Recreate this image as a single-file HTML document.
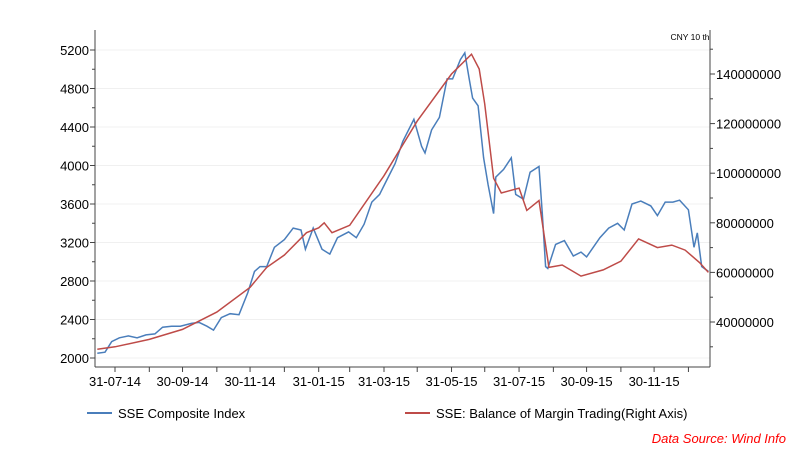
<!DOCTYPE html>
<html><head><meta charset="utf-8"><style>
body{margin:0;background:#fff;width:800px;height:449px;overflow:hidden;font-family:"Liberation Sans",sans-serif}
svg text{font-family:"Liberation Sans",sans-serif}
</style></head><body>
<svg id="chart" width="800" height="449" viewBox="0 0 800 449" xmlns="http://www.w3.org/2000/svg">
<g id="grid"></g>
<g id="axes"></g>
<g id="series"></g>
<text x="690" y="40" font-size="8.5" text-anchor="middle">CNY 10 th</text>
<g>
<g><line x1="87" y1="413" x2="112" y2="413" stroke="#4a7ebb" stroke-width="2"/><text x="118" y="418" font-size="13">SSE Composite Index</text></g>
<g><line x1="405" y1="413" x2="430" y2="413" stroke="#be4b48" stroke-width="2"/><text x="436" y="418" font-size="13">SSE: Balance of Margin Trading(Right Axis)</text></g>
</g>
<text x="786" y="443" font-size="13" fill="#ff0000" font-style="italic" text-anchor="end">Data Source: Wind Info</text>
</svg>
<script>
const leftTicks=[2000,2400,2800,3200,3600,4000,4400,4800,5200];
const rightTicks=[40000000,60000000,80000000,100000000,120000000,140000000];
const xTickDates=["2014-07-31","2014-08-31","2014-09-30","2014-10-31","2014-11-30","2014-12-31","2015-01-31","2015-02-28","2015-03-31","2015-04-30","2015-05-31","2015-06-30","2015-07-31","2015-08-31","2015-09-30","2015-10-31","2015-11-30","2015-12-31"];
const xTickLabels=["31-07-14","","30-09-14","","30-11-14","","31-01-15","","31-03-15","","31-05-15","","31-07-15","","30-09-15","","30-11-15",""];
const indexDates=["2014-07-15","2014-07-22","2014-07-28","2014-08-04","2014-08-12","2014-08-20","2014-08-28","2014-09-05","2014-09-12","2014-09-20","2014-09-28","2014-10-08","2014-10-15","2014-10-22","2014-10-28","2014-11-04","2014-11-12","2014-11-20","2014-11-28","2014-12-04","2014-12-09","2014-12-15","2014-12-22","2014-12-31","2015-01-08","2015-01-15","2015-01-19","2015-01-26","2015-02-03","2015-02-10","2015-02-17","2015-02-27","2015-03-06","2015-03-13","2015-03-20","2015-03-27","2015-04-03","2015-04-10","2015-04-17","2015-04-27","2015-05-04","2015-05-07","2015-05-13","2015-05-20","2015-05-27","2015-06-01","2015-06-08","2015-06-12","2015-06-16","2015-06-19","2015-06-24","2015-06-29","2015-07-03","2015-07-08","2015-07-10","2015-07-17","2015-07-24","2015-07-28","2015-08-04","2015-08-10","2015-08-18","2015-08-21","2015-08-24","2015-08-26","2015-09-02","2015-09-10","2015-09-18","2015-09-25","2015-09-30","2015-10-12","2015-10-20","2015-10-28","2015-11-03","2015-11-10","2015-11-18","2015-11-27","2015-12-03","2015-12-10","2015-12-17","2015-12-23","2015-12-31","2016-01-05","2016-01-08","2016-01-12","2016-01-18"];
const indexValues=[2050,2060,2170,2210,2230,2210,2240,2250,2320,2330,2330,2360,2370,2330,2290,2420,2460,2450,2680,2900,2950,2950,3150,3230,3350,3330,3130,3350,3130,3080,3250,3310,3250,3390,3620,3700,3860,4020,4250,4480,4200,4130,4370,4500,4900,4900,5100,5170,4900,4700,4620,4080,3800,3500,3880,3960,4080,3700,3650,3930,3990,3500,2950,2930,3180,3220,3060,3100,3050,3250,3350,3400,3330,3600,3630,3580,3480,3620,3620,3640,3540,3150,3300,2950,2900];
const marginDates=["2014-07-15","2014-07-31","2014-08-31","2014-09-30","2014-10-31","2014-11-30","2014-12-15","2014-12-31","2015-01-20","2015-01-31","2015-02-05","2015-02-12","2015-02-28","2015-03-31","2015-04-30","2015-05-31","2015-06-18","2015-06-25","2015-06-30","2015-07-08","2015-07-15","2015-07-31","2015-08-07","2015-08-18","2015-08-27","2015-09-08","2015-09-25","2015-10-15","2015-10-31","2015-11-16","2015-12-03","2015-12-16","2015-12-28","2016-01-10","2016-01-18"];
const marginValues=[29000000,30000000,33000000,37000000,44000000,54000000,62000000,67000000,76000000,78000000,80000000,76000000,79000000,99000000,121000000,140000000,148000000,142000000,128000000,98000000,92000000,94000000,85000000,89000000,62000000,63000000,58500000,61000000,64500000,73500000,70000000,71000000,69000000,64000000,60000000];

const NS="http://www.w3.org/2000/svg";
const X0=95,X1=710,YT=30,YB=367;
const base=Date.UTC(2014,6,31);
function day(s){const p=s.split("-");return (Date.UTC(+p[0],+p[1]-1,+p[2])-base)/86400000;}
function xS(s){return 115+day(s)*1.107;}
function yL(v){return 50+(5200-v)*(308/3200);}
function yR(v){return 322-(v-40000000)*(248/100000000);}
function mk(tag,attrs,parent){const e=document.createElementNS(NS,tag);for(const k in attrs)e.setAttribute(k,attrs[k]);parent.appendChild(e);return e;}
const grid=document.getElementById('grid'),axes=document.getElementById('axes'),series=document.getElementById('series');
// axis frame
let a=mk('line',{x1:X0,y1:YT,x2:X0,y2:YB,stroke:'#444'},axes);


a=mk('line',{x1:X1,y1:YT,x2:X1,y2:YB,stroke:'#444'},axes);


a=mk('line',{x1:X0,y1:YB,x2:X1,y2:YB,stroke:'#444'},axes);


leftTicks.forEach(v=>{const y=yL(v);
 const g=mk('line',{x1:X0,y1:y,x2:X1,y2:y,stroke:'#f0f0f0'},grid);
 
 
 mk('line',{x1:X0-5,y1:y,x2:X0,y2:y,stroke:'#444'},axes);
 const m=yL(v-200); if(v>2000) mk('line',{x1:X0-3,y1:m,x2:X0,y2:m,stroke:'#444'},axes);
 const t=mk('text',{x:X0-6,y:y+5,'font-size':13,'text-anchor':'end'},axes);t.textContent=v;
 
 
});
rightTicks.forEach(v=>{const y=yR(v);
 mk('line',{x1:X1,y1:y,x2:X1+5,y2:y,stroke:'#444'},axes);
 [yR(v-10000000)].forEach(m=>mk('line',{x1:X1,y1:m,x2:X1+3,y2:m,stroke:'#444'},axes));
 const t=mk('text',{x:X1+6,y:y+5,'font-size':13},axes);t.textContent=v;
 
 
});
[yR(150000000)].forEach(m=>mk('line',{x1:X1,y1:m,x2:X1+3,y2:m,stroke:'#444'},axes));
xTickDates.forEach((d,i)=>{const x=xS(d);if(x>X1)return;
 mk('line',{x1:x,y1:YB,x2:x,y2:YB+5,stroke:'#444'},axes);
 if(xTickLabels[i]){const t=mk('text',{x:x,y:YB+19,'font-size':13,'text-anchor':'middle'},axes);t.textContent=xTickLabels[i];
 
 }
});
const p1=mk('polyline',{points:indexDates.map((d,i)=>xS(d).toFixed(1)+','+yL(indexValues[i]).toFixed(1)).join(' '),fill:'none',stroke:'#4a7ebb','stroke-width':1.5},series);


const p2=mk('polyline',{points:marginDates.map((d,i)=>xS(d).toFixed(1)+','+yR(marginValues[i]).toFixed(1)).join(' '),fill:'none',stroke:'#be4b48','stroke-width':1.5},series);


</script>
</body></html>
